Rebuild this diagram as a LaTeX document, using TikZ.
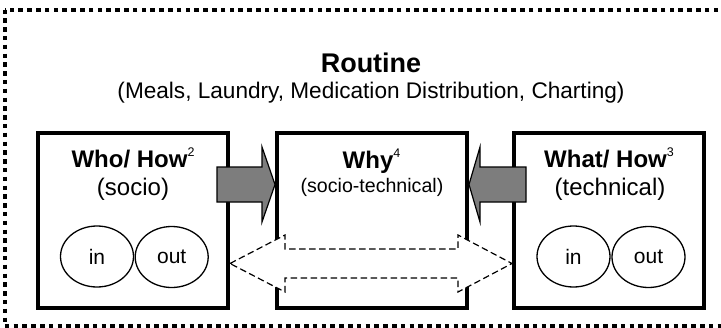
\documentclass[tikz,border=0pt]{standalone}
\usepackage{fontspec}
\setmainfont{Liberation Sans}
\usetikzlibrary{shapes.geometric}
\definecolor{arrowgray}{RGB}{125,125,125}
\newcommand\supnum[1]{\raisebox{11pt}{\fontsize{12.5}{12.5}\selectfont\mdseries #1}}
\begin{document}
\begin{tikzpicture}[x=1pt,y=-1pt,
  outerbox/.style={line width=4pt, dash pattern=on 4.5pt off 4.3pt},
  panel/.style={draw, line width=4pt, minimum width=190pt, minimum height=175pt, inner sep=0pt},
  ttl/.style={anchor=base, inner sep=0pt, font=\fontsize{24}{26}\selectfont\bfseries},
  sub/.style={anchor=base, inner sep=0pt, font=\fontsize{24}{26}\selectfont},
  ell/.style={draw, ellipse, line width=1.3pt, minimum width=73pt, minimum height=61pt, inner sep=0pt, font=\fontsize{21}{23}\selectfont},
  garrow/.style={fill=arrowgray, draw=black, line width=1.2pt, line join=miter},
  darrow/.style={fill=white, draw=black, line width=1.2pt, dash pattern=on 6.5pt off 3.5pt}]
\useasboundingbox (0,0) rectangle (721,327);
% outer dotted frame
\draw[outerbox] (4.5,9.5) rectangle (740,326);
% titles
\node[anchor=base, inner sep=0pt, font=\fontsize{27}{30}\selectfont\bfseries] (routine) at (371,72) {Routine};
\node[anchor=base, inner sep=0pt, font=\fontsize{22.6}{25}\selectfont] (routinesub) at (371,98) {(Meals, Laundry, Medication Distribution, Charting)};
% panels
\node[panel] (lbox) at (133,220.5) {};
\node[panel] (cbox) at (372,220.5) {};
\node[panel] (rbox) at (609,220.5) {};
% gray block arrows
\draw[garrow] (217,167) -- (262,167) -- (262,147) -- (cbox.west |- 0,184.5) -- (262,222) -- (262,202) -- (217,202) -- cycle;
\draw[garrow] (526,167) -- (480,167) -- (480,147) -- (cbox.east |- 0,184.5) -- (480,222) -- (480,202) -- (526,202) -- cycle;
% dashed double block arrow
\coordinate (dl) at (lbox.east |- 0,263.5);
\coordinate (dr) at (rbox.west |- 0,263.5);
\draw[darrow] (dl) -- (285,235) -- (285,249) -- (458,249) -- (458,235) -- (dr) -- (458,292) -- (458,278) -- (285,278) -- (285,292) -- cycle;
% panel texts
\node[ttl] (whohow) at (133,167) {Who/ How\supnum{2}};
\node[sub] (socio) at (133,195) {(socio)};
\node[ttl] (why) at (371.5,168) {Why\supnum{4}};
\node[anchor=base, inner sep=0pt, font=\fontsize{19.6}{22}\selectfont] (sociotech) at (372,192) {(socio-technical)};
\node[ttl] (whathow) at (609,167) {What/ How\supnum{3}};
\node[sub] (technical) at (610,195) {(technical)};
% in/out ellipses
\node[ell] (lin) at (97,256.5) {in};
\node[ell] (lout) at (171.7,257) {out};
\node[ell] (rin) at (573.5,256.5) {in};
\node[ell] (rout) at (648.5,257) {out};
\end{tikzpicture}
\end{document}
